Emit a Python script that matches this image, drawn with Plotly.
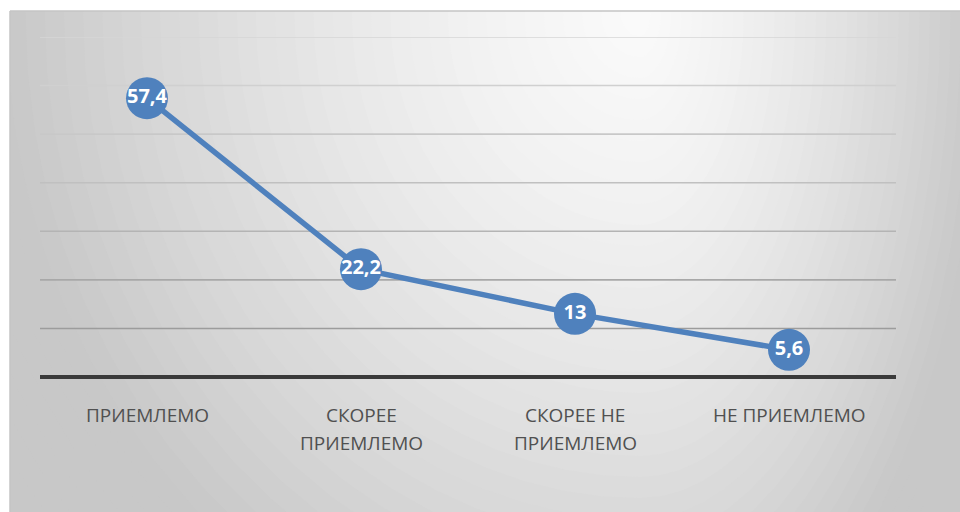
import math
import plotly.graph_objects as go

categories = ["ПРИЕМЛЕМО", "СКОРЕЕ\nПРИЕМЛЕМО", "СКОРЕЕ НЕ\nПРИЕМЛЕМО", "НЕ ПРИЕМЛЕМО"]
values = [57.4, 22.2, 13, 5.6]
value_labels = ["57,4", "22,2", "13", "5,6"]
y_ticks = [10, 20, 30, 40, 50, 60, 70]

W_PX, H_PX = 960, 512
L, R, T, B = 40, 64, 37, 135
PW, PH = W_PX - L - R, H_PX - T - B


def px(x, y):
    return (x - L) / PW, 1 - (y - T) / PH


shapes = []

# radial-ish background gradient (decoration)
cx, cy = 640, 15
sxL, sxR, sy = 640, 345, 700


def shade(t):
    t = min(t, 1.0)
    v = int(round(250 - 50 * t ** 1.4))
    return f"rgb({v},{v},{v})"


n_rings = 45
for i in range(n_rings, 0, -1):
    t = 1.35 * i / n_rings
    pts = []
    for k in range(73):
        a = 2 * math.pi * k / 72
        c, s = math.cos(a), math.sin(a)
        sx = sxR if c > 0 else sxL
        x = cx + t * sx * c
        y = cy + t * sy * s
        pts.append(px(x, y))
    path = "M " + " L ".join(f"{a:.5f},{b:.5f}" for a, b in pts) + " Z"
    shapes.append(dict(type="path", xref="paper", yref="paper", path=path,
                       fillcolor=shade(t), line=dict(width=0), layer="below"))

# white outside the chart frame
x0p, _ = px(-20, 0)
x1p, _ = px(10, 0)
x2p, _ = px(990, 0)
_, yb = px(0, 540)
_, yt = px(0, -20)
_, y11 = px(0, 11)
shapes.append(dict(type="rect", xref="paper", yref="paper", x0=x0p, x1=x1p, y0=yb, y1=yt,
                   fillcolor="white", line=dict(width=0), layer="below"))
shapes.append(dict(type="rect", xref="paper", yref="paper", x0=x0p, x1=x2p, y0=y11, y1=yt,
                   fillcolor="white", line=dict(width=0), layer="below"))
# frame border
shapes.append(dict(type="line", xref="paper", yref="paper", x0=x1p, x1=x2p, y0=y11, y1=y11,
                   line=dict(color="#c4c4c4", width=1.5), layer="below"))
shapes.append(dict(type="line", xref="paper", yref="paper", x0=x1p, x1=x1p, y0=yb, y1=y11,
                   line=dict(color="#c4c4c4", width=1.5), layer="below"))

# gridlines (lighter toward top)
grid_cols = {10: "#9c9c9c", 20: "#a8a8a8", 30: "#b4b4b4", 40: "#c0c0c0",
             50: "#c8c8c8", 60: "#d0d0d0", 70: "#d6d6d6"}
for v in y_ticks:
    shapes.append(dict(type="line", xref="paper", yref="y", x0=0, x1=1, y0=v, y1=v,
                       line=dict(color=grid_cols[v], width=1.6), layer="below"))
# category axis base line (paper ref so it is not clipped by the plot area)
shapes.append(dict(type="line", xref="paper", yref="paper", x0=0, x1=1, y0=0, y1=0,
                   line=dict(color="#3a3a3a", width=4), layer="below"))

fig = go.Figure()
fig.add_trace(go.Scatter(
    x=list(range(len(values))), y=values,
    mode="lines+markers+text",
    line=dict(color="#4f81bd", width=5.5),
    marker=dict(size=42, color="#4f81bd", line=dict(width=0)),
    text=value_labels, textposition="middle center",
    textfont=dict(family="Open Sans", size=20, color="white", weight="bold"),
    cliponaxis=False, hoverinfo="skip", showlegend=False,
))

annotations = []
for i, lab in enumerate(categories):
    for j, line in enumerate(lab.split("\n")):
        annotations.append(dict(
            x=i, y=0, xref="x", yref="paper", text=line, showarrow=False,
            xanchor="center", yanchor="middle", yshift=-38 - 28 * j,
            font=dict(family="Open Sans", size=19, color="#505050"),
        ))

fig.update_layout(
    width=W_PX, height=H_PX,
    margin=dict(l=L, r=R, t=T, b=B),
    paper_bgcolor="white", plot_bgcolor="rgba(0,0,0,0)",
    shapes=shapes, annotations=annotations,
    xaxis=dict(range=[-0.5, len(values) - 0.5], showgrid=False, zeroline=False,
               showticklabels=False, showline=False, fixedrange=True),
    yaxis=dict(range=[0, 70], showgrid=False, zeroline=False,
               showticklabels=False, showline=False, fixedrange=True),
    showlegend=False,
)

fig.write_html("out.html", config={"displayModeBar": False},
               post_script="document.body.style.margin='0';document.body.style.overflow='hidden';")
